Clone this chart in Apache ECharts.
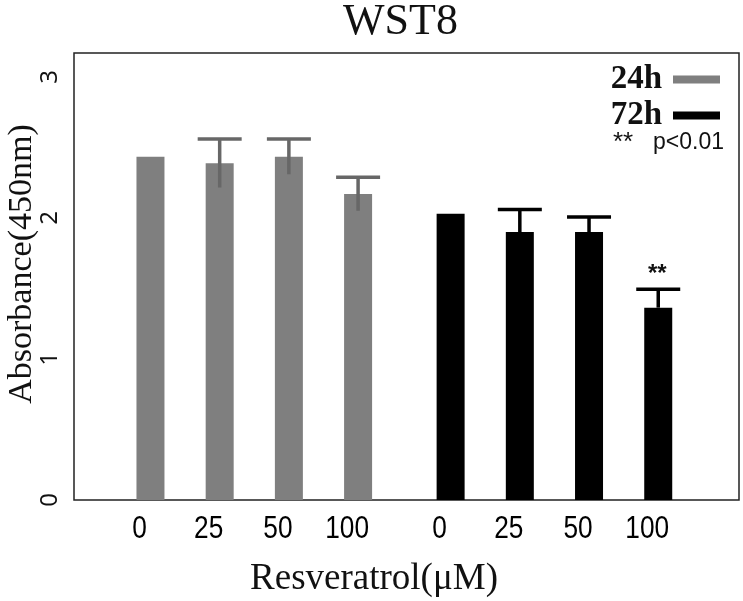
<!DOCTYPE html>
<html>
<head>
<meta charset="utf-8">
<script src="https://cdn.jsdelivr.net/npm/echarts@6/dist/echarts.min.js"></script>
<style>
html,body{margin:0;padding:0;background:#fff;}
#chart{width:743px;height:601px;}
</style>
</head>
<body>
<div id="chart"></div>
<script>
// ---- data ----
const doses = ['0', '25', '50', '100'];
const groupNames = ['24h', '72h'];
const mean24 = [2.435, 2.388, 2.435, 2.170];
const err24  = [0,     0.172, 0.125, 0.119];
const mean72 = [2.030, 1.900, 1.900, 1.364];
const err72  = [0,     0.160, 0.107, 0.130];
const sig72  = ['', '', '', '**'];
const yTicks = [0, 1, 2, 3];
const titleText = 'WST8';
const xTitle = 'Resveratrol(\u03bcM)';
const yTitle = 'Absorbance(450nm)';
const noteStars = '**';
const noteText = 'p<0.01';

// ---- layout helpers ----
const GROUP_GAP = 0.337;   // extra spacing between the two groups (in slot units)
const BAR_W = 28, CAP_W = 44;
const colors = {'24h': '#7f7f7f', '72h': '#000000'};
const stemColors = {'24h': '#676767', '72h': '#000000'};

function buildData(means, errs, g) {
  return means.map((m, i) => [i + g * (doses.length + GROUP_GAP), m, errs[i]]);
}

function makeRender(gName, sigs) {
  return function (params, api) {
    const i = params.dataIndex;
    const x = api.value(0), v = api.value(1), e = api.value(2);
    const base = api.coord([x, 0]);
    const top = api.coord([x, v]);
    const children = [{
      type: 'rect',
      shape: {x: base[0] - BAR_W / 2, y: top[1], width: BAR_W, height: base[1] - top[1]},
      style: {fill: colors[gName]}
    }];
    let capY = top[1];
    if (e > 0) {
      const hi = api.coord([x, v + e]);
      const lo = api.coord([x, v - e]);
      capY = hi[1];
      children.push({
        type: 'line',
        shape: {x1: hi[0], y1: hi[1], x2: hi[0], y2: gName === '24h' ? lo[1] : top[1]},
        style: {stroke: stemColors[gName], lineWidth: 3.5}
      });
      children.push({
        type: 'line',
        shape: {x1: hi[0] - CAP_W / 2, y1: hi[1], x2: hi[0] + CAP_W / 2, y2: hi[1]},
        style: {stroke: stemColors[gName], lineWidth: 3.5}
      });
    }
    children.push({
      type: 'text',
      x: base[0] - 11, y: base[1] + 29, scaleX: 0.82,
      style: {text: doses[i], textAlign: 'center', textVerticalAlign: 'middle',
              fontFamily: '"Liberation Sans", Arial, sans-serif',
              fontSize: 32, fill: '#000'}
    });
    if (sigs && sigs[i]) {
      children.push({
        type: 'text',
        x: base[0] - 1, y: capY - 15,
        style: {text: sigs[i], textAlign: 'center', textVerticalAlign: 'middle',
                fontFamily: '"Liberation Sans", Arial, sans-serif', fontWeight: 'bold',
                fontSize: 24, fill: '#111'}
      });
    }
    return {type: 'group', children: children};
  };
}

const chart = echarts.init(document.getElementById('chart'), null, {renderer: 'canvas'});
chart.setOption({
  backgroundColor: '#fff',
  animation: false,
  title: {
    text: titleText, left: 343, top: 0, padding: 0,
    textStyle: {fontFamily: '"Liberation Serif", "Times New Roman", serif', fontWeight: 'normal', fontSize: 44, color: '#111'}
  },
  grid: {left: 74, right: 4, top: 53, bottom: 101, show: true, borderColor: '#222', borderWidth: 1.5},
  legend: {
    data: groupNames, orient: 'vertical', right: 18, top: 58, align: 'right',
    itemWidth: 47, itemHeight: 8, itemGap: 3, icon: 'rect', selectedMode: false,
    textStyle: {fontFamily: '"Liberation Serif", "Times New Roman", serif', fontWeight: 'bold', fontSize: 33, color: '#111', padding: [0, 6, 0, 0]}
  },
  xAxis: {
    type: 'value', min: -1.105, max: 8.504,
    axisLine: {show: false}, axisTick: {show: false}, axisLabel: {show: false}, splitLine: {show: false}
  },
  yAxis: {
    type: 'value', min: yTicks[0], max: 3.17, interval: 1,
    axisLine: {show: false}, axisTick: {show: false}, splitLine: {show: false},
    axisLabel: {
      rotate: 90, margin: 12, fontSize: 24, color: '#111',
      fontFamily: '"Noto Sans", "Liberation Sans", sans-serif',
      formatter: v => (yTicks.indexOf(v) >= 0 ? String(v) : '')
    }
  },
  graphic: [
    {type: 'text', x: 22, y: 264, rotation: Math.PI / 2,
     style: {text: yTitle, textAlign: 'center', textVerticalAlign: 'middle',
             fontFamily: '"Liberation Serif", "Times New Roman", serif', fontSize: 34, fill: '#111'}},
    {type: 'text', x: 374, y: 579,
     style: {text: xTitle, textAlign: 'center', textVerticalAlign: 'middle',
             fontFamily: '"Liberation Serif", "Times New Roman", serif', fontSize: 37, fill: '#111'}},
    {type: 'text', x: 613, y: 143,
     style: {text: noteStars, textAlign: 'left', textVerticalAlign: 'middle',
             fontFamily: '"Liberation Sans", Arial, sans-serif', fontSize: 26, fill: '#111'}},
    {type: 'text', x: 653, y: 143,
     style: {text: noteText, textAlign: 'left', textVerticalAlign: 'middle',
             fontFamily: '"Liberation Sans", Arial, sans-serif', fontSize: 23, fill: '#111'}}
  ],
  series: [
    {name: groupNames[0], type: 'custom', itemStyle: {color: colors['24h']},
     renderItem: makeRender('24h', null), encode: {x: 0, y: 1},
     data: buildData(mean24, err24, 0)},
    {name: groupNames[1], type: 'custom', itemStyle: {color: colors['72h']},
     renderItem: makeRender('72h', sig72), encode: {x: 0, y: 1},
     data: buildData(mean72, err72, 1)}
  ]
});
</script>
</body>
</html>
